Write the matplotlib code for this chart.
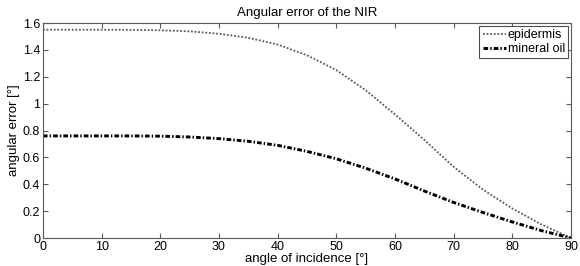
import matplotlib
matplotlib.use("Agg")
import matplotlib.pyplot as plt
from matplotlib.ticker import FuncFormatter

angle = [0, 5, 10, 15, 20, 25, 30, 35, 40, 45, 50, 55, 60, 65, 70, 75, 80, 85, 90]
epidermis = [1.55, 1.55, 1.55, 1.549, 1.546, 1.538, 1.52, 1.49, 1.44, 1.36, 1.25,
             1.10, 0.92, 0.73, 0.53, 0.36, 0.22, 0.10, 0.0]
mineral_oil = [0.76, 0.76, 0.76, 0.76, 0.758, 0.752, 0.74, 0.72, 0.69, 0.645, 0.59,
               0.52, 0.44, 0.35, 0.265, 0.19, 0.12, 0.055, 0.0]
xticks = [0, 10, 20, 30, 40, 50, 60, 70, 80, 90]
yticks = [0, 0.2, 0.4, 0.6, 0.8, 1.0, 1.2, 1.4, 1.6]

plt.rcParams['font.family'] = ['Liberation Sans', 'DejaVu Sans']

fig = plt.figure(figsize=(5.8, 2.66), dpi=100)
ax = fig.add_axes([0.074, 0.105, 0.9105, 0.8085])

ax.plot(angle, epidermis, linestyle=(0, (1, 1)), color='0.35', lw=1.3, label='epidermis')
ax.plot(angle, mineral_oil, linestyle='-.', color='black', lw=2.1, label='mineral oil',
        dashes=(1.6, 0.7, 0.5, 0.7))

ax.set_xlim(0, 90)
ax.set_ylim(0, 1.6)
ax.set_xticks(xticks)
ax.set_yticks(yticks)
ax.yaxis.set_major_formatter(FuncFormatter(lambda v, p: f"{v:g}"))
ax.tick_params(direction='in', length=3.5, top=True, right=True, labelsize=9,
               color='0.35', pad=2)
for s in ax.spines.values():
    s.set_color('0.35')
    s.set_linewidth(0.8)

ax.set_title('Angular error of the NIR', fontsize=9.5, pad=5)
ax.set_xlabel('angle of incidence [°]', fontsize=9.5, labelpad=0)
ax.set_ylabel('angular error [°]', fontsize=9.5, labelpad=2)

leg = ax.legend(loc='upper right', fontsize=9, handlelength=1.9, handletextpad=0.1,
                borderpad=0.25, labelspacing=0.15, fancybox=False, framealpha=1,
                borderaxespad=0.25)
leg.get_frame().set_edgecolor('0.3')
leg.get_frame().set_linewidth(0.8)

fig.savefig('out.png', dpi=100)
